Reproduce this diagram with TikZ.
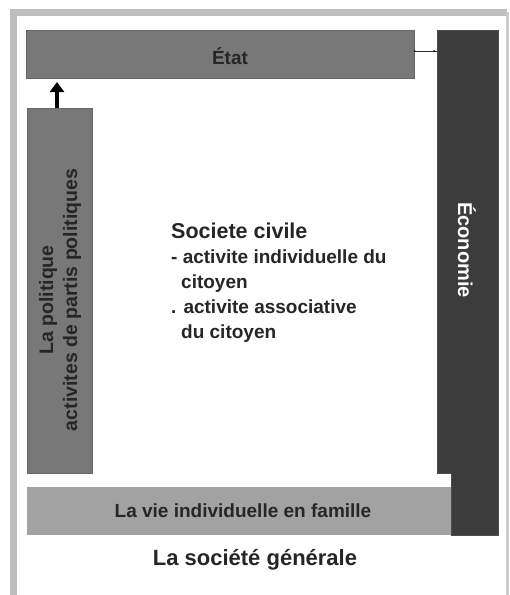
\documentclass[tikz,border=0pt]{standalone}
\usepackage{fontspec}
\setmainfont{Liberation Sans}
\usetikzlibrary{arrows.meta}
\definecolor{framegray}{HTML}{BEBEBE}
\definecolor{midgray}{HTML}{787878}
\definecolor{lightgray2}{HTML}{A2A2A2}
\definecolor{darkgray2}{HTML}{3C3C3C}
\begin{document}
\begin{tikzpicture}[x=1pt,y=-1pt,
  box/.style={draw=black!60,line width=0.6pt,inner sep=0pt,anchor=north west},
  lbl/.style={text=black!85,inner sep=0pt,align=left},
  body/.style={lbl,font=\bfseries\fontsize{19}{24}\selectfont,anchor=base west}]
\useasboundingbox (0,0) rectangle (510,595);
% frame
\fill[white] (0,0) rectangle (510,595);
\draw[framegray,line width=7pt] (13.5,595) -- (13.5,12) -- (507,12);
\draw[framegray!80,line width=3pt] (507,12) -- (507,595);
% Etat
\node[box,fill=midgray,minimum width=388pt,minimum height=48pt] (etat) at (26,30) {};
\node[lbl,font=\bfseries\fontsize{19}{22}\selectfont] (etatt) at (230,56) {État};
% Economie (notched shape)
\fill[darkgray2,draw=black!70,line width=0.6pt] (437,30) -- (498,30) -- (498,535) -- (451,535) -- (451,473) -- (437,473) -- cycle;
\coordinate (ecoL) at (437,51);
\node[font=\bfseries\fontsize{20}{22}\selectfont,text=white,rotate=-90,inner sep=0pt] (eco) at (467,250) {Économie};
% connector
\draw[black!80,line width=0.8pt] (etat.east |- ecoL) -- (ecoL);
\fill[black] (etat.east |- ecoL) circle (1pt);
\fill[black] (434,51) circle (1pt);
% La politique
\node[box,fill=midgray,minimum width=65pt,minimum height=365pt] (pol) at (27,108) {};
\node[font=\bfseries\fontsize{19.5}{24}\selectfont,text=black!85,rotate=90,align=center,inner sep=0pt] (polt) at (60,300) {La politique\\activites de partis politiques};
% arrow
\draw[-{Triangle[width=14pt,length=10pt]},line width=3.5pt] (pol.north -| 57,0) -- (57,82);
% La vie
\node[box,fill=lightgray2,draw=none,minimum width=424pt,minimum height=48pt] (vie) at (27,487) {};
\node[lbl,font=\bfseries\fontsize{19}{22}\selectfont] (viet) at (243,511) {La vie individuelle en famille};
% La societe generale
\node[lbl,font=\bfseries\fontsize{22}{24}\selectfont] (gen) at (255,560) {La société générale};
% Societe civile
\node[lbl,anchor=base west,font=\bfseries\fontsize{21.5}{24}\selectfont] (sc) at (171,238) {Societe civile};
\node[body] (sc1) at (171,263) {- activite individuelle du};
\node[body] (sc2) at (181,288) {citoyen};
\node[body] (sc3) at (171,313) {. activite associative};
\node[body] (sc4) at (181,338) {du citoyen};
\end{tikzpicture}
\end{document}
